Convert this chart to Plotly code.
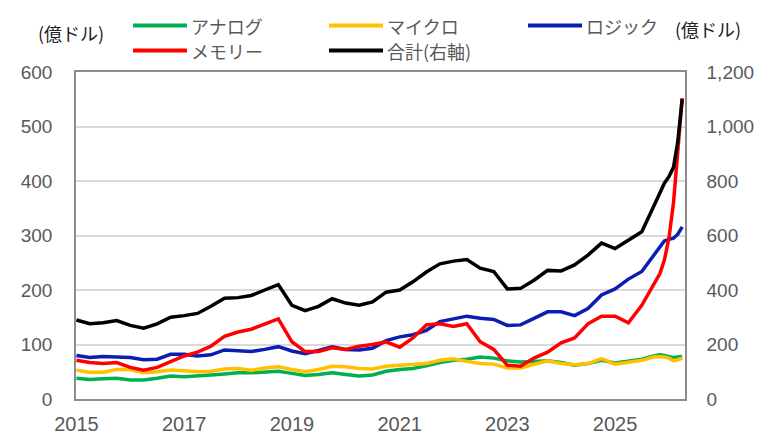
import pandas as pd
import plotly.graph_objects as go

# quarterly points 2015-01 .. 2025-10, then monthly to 2026-04
dates = list(pd.date_range("2015-01-01", "2025-10-01", freq="QS").strftime("%Y-%m-%d"))
dates += ["2025-11-01", "2025-12-01", "2026-01-01", "2026-02-01", "2026-03-01", "2026-04-01"]

analog = [38, 36, 37, 38, 35, 35, 38, 42, 41, 42, 44, 46,
          48, 48, 49, 51, 47, 43, 45, 48, 45, 42, 44, 51,
          54, 56, 61, 67, 71, 73, 77, 75, 70, 68, 69, 70,
          67, 62, 65, 71, 66, 69, 73, 80,
          81, 80, 78, 76, 77, 78]
micro = [53, 49, 49, 54, 54, 48, 50, 53, 52, 50, 51, 55,
         56, 53, 57, 59, 54, 50, 54, 60, 59, 56, 55, 60,
         62, 63, 65, 71, 74, 69, 65, 64, 57, 57, 64, 70,
         65, 63, 65, 74, 64, 67, 71, 78,
         78, 77, 75, 70, 72, 75]
logic = [80, 76, 78, 77, 76, 72, 73, 82, 82, 79, 81, 90,
         88, 87, 91, 96, 88, 83, 89, 96, 91, 90, 93, 107,
         114, 118, 126, 142, 147, 152, 148, 146, 135, 136, 148, 160,
         160, 153, 166, 191, 202, 220, 234, 268,
         278, 290, 293, 295, 302, 316]
memory = [71, 67, 65, 67, 58, 53, 58, 68, 79, 86, 97, 115,
          123, 128, 137, 147, 105, 87, 87, 94, 91, 97, 100, 105,
          95, 112, 136, 138, 133, 138, 105, 91, 62, 60, 75, 86,
          103, 112, 138, 152, 152, 140, 172, 215,
          230, 255, 295, 360, 445, 552]
total = [290, 276, 280, 288, 270, 260, 276, 300, 306, 314, 340, 370,
         372, 380, 400, 420, 344, 324, 340, 368, 352, 344, 356, 392,
         400, 430, 466, 496, 506, 512, 480, 468, 404, 406, 436, 472,
         470, 492, 528, 572, 552, 584, 614, 720,
         756, 792, 816, 850, 940, 1100]

names = ["アナログ", "マイクロ", "ロジック", "メモリー", "合計(右軸)"]
colors = ["#00B050", "#FFC000", "#0A1EB4", "#FF0000", "#000000"]

fig = go.Figure()
for vals, nm, c in zip([analog, micro, logic, memory], names[:4], colors[:4]):
    fig.add_trace(go.Scatter(x=dates, y=vals, name=nm, mode="lines",
                             line=dict(color=c, width=3.5)))
fig.add_trace(go.Scatter(x=dates, y=total, name=names[4], mode="lines",
                         line=dict(color=colors[4], width=3.5), yaxis="y2"))

tick_font = dict(family="Liberation Sans, Arial", size=19, color="#595959")
# page body has an 8px margin, so the figure is shrunk by 8px and margins shifted
fig.update_layout(
    width=757, height=429,
    margin=dict(l=68, r=80, t=64, b=38),
    paper_bgcolor="white", plot_bgcolor="white",
    showlegend=False,
    xaxis=dict(type="date", range=["2014-12-29", "2026-04-20"], automargin=False,
               tick0="2015-01-01", dtick="M24", tickformat="%Y",
               showgrid=False, showline=True, linecolor="#8C8C8C", linewidth=1.5,
               mirror=True, ticks="outside", ticklen=6, tickcolor="rgba(0,0,0,0)",
               tickfont=dict(family="Liberation Sans, Arial", size=20, color="#595959")),
    yaxis=dict(range=[0, 600], dtick=100, showgrid=True, gridcolor="#D9D9D9", gridwidth=1.5,
               zeroline=False, showline=True, linecolor="#8C8C8C", linewidth=1.5, automargin=False,
               ticks="outside", ticklen=18, tickcolor="rgba(0,0,0,0)", tickfont=tick_font),
    yaxis2=dict(range=[0, 1200], dtick=200, overlaying="y", side="right", tickformat=",d",
                showgrid=False, zeroline=False, showline=True, linecolor="#8C8C8C", linewidth=1.5,
                automargin=False, ticks="outside", ticklen=16, tickcolor="rgba(0,0,0,0)",
                tickfont=tick_font),
)

# legend drawn by hand: page pixel positions converted to paper coords
def px(x):
    return (x - 76) / 609

def py(y):
    return (399 - y) / 327

legend_pos = [(133, 25.5), (329, 25.5), (528, 25.5), (133, 50.5), (329, 50.5)]
for (lx, ly), nm, c in zip(legend_pos, names, colors):
    fig.add_shape(type="line", xref="paper", yref="paper",
                  x0=px(lx), x1=px(lx + 54), y0=py(ly), y1=py(ly),
                  line=dict(color=c, width=4))
    fig.add_annotation(xref="paper", yref="paper", x=px(lx + 56), y=py(ly),
                       text=nm, showarrow=False, xanchor="left", yanchor="middle",
                       font=dict(family="Noto Sans CJK JP", size=18, color="#595959"))

unit_font = dict(family="Noto Sans CJK JP", size=18, color="#222222")
fig.add_annotation(xref="paper", yref="paper", x=px(71), y=py(33), text="(億ドル)",
                   showarrow=False, xanchor="center", yanchor="middle", font=unit_font)
fig.add_annotation(xref="paper", yref="paper", x=px(708), y=py(29), text="(億ドル)",
                   showarrow=False, xanchor="center", yanchor="middle", font=unit_font)

fig.write_html("out.html")
